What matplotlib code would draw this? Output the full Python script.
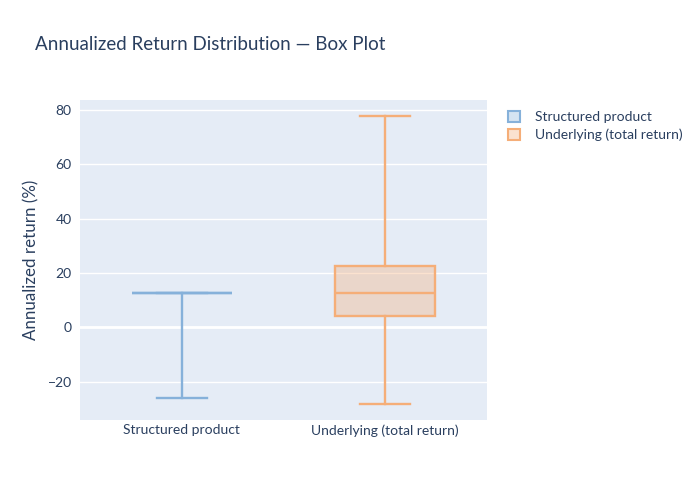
import matplotlib
matplotlib.use("Agg")
import matplotlib.pyplot as plt
from matplotlib.patches import Patch

plt.rcParams['font.family'] = ['Lato', 'DejaVu Sans']

categories = ["Structured product", "Underlying (total return)"]
whisker_low = [-25.9, -28.1]
q1 = [12.7, 4.3]
median = [12.7, 12.5]
q3 = [12.7, 22.7]
whisker_high = [12.7, 77.8]
colors = ["#86b1da", "#f5ae78"]
fills = [(0.53, 0.70, 0.86, 0.35), (0.96, 0.68, 0.47, 0.35)]
yticks = [-20, 0, 20, 40, 60, 80]

fig = plt.figure(figsize=(7, 5), dpi=100)
ax = fig.add_axes([80/700, 80/500, 407/700, 320/500])
ax.set_facecolor("#e5ecf6")

for i in range(len(categories)):
    st = [dict(med=median[i], q1=q1[i], q3=q3[i], whislo=whisker_low[i],
               whishi=whisker_high[i], fliers=[], label=categories[i])]
    ax.bxp(st, positions=[i], widths=0.49, patch_artist=True, showfliers=False,
           boxprops=dict(facecolor=fills[i], edgecolor=colors[i], linewidth=1.7),
           medianprops=dict(color=colors[i], linewidth=1.7),
           whiskerprops=dict(color=colors[i], linewidth=1.7),
           capprops=dict(color=colors[i], linewidth=1.7),
           capwidths=0.245, zorder=3)

ax.set_xlim(-0.5, 1.5)
ax.set_ylim(-34.0, 83.6)
ax.set_xticks(range(len(categories)))
ax.set_xticklabels(categories)
ax.set_yticks(yticks)
ax.set_yticklabels([str(t).replace("-", "\u2212") for t in yticks])
ax.grid(axis='y', color='white', linewidth=1, zorder=0)
ax.axhline(0, color='white', linewidth=2, zorder=1)
ax.set_axisbelow(True)
for s in ax.spines.values():
    s.set_visible(False)
ax.tick_params(axis='x', length=0, labelsize=10, colors="#2a3f5f", pad=3)
ax.tick_params(axis='y', length=0, labelsize=10, colors="#2a3f5f", pad=6)
ax.set_ylabel("Annualized return (%)", fontsize=12.2, color="#2a3f5f", labelpad=6)

fig.text(35/700, 1 - 44/500, "Annualized Return Distribution \u2014 Box Plot",
         fontsize=13.5, color="#2a3f5f", va="center", ha="left")

handles = [Patch(facecolor=fills[i], edgecolor=colors[i], linewidth=1.5,
                 label=categories[i]) for i in range(len(categories))]
leg = fig.legend(handles=handles, loc="upper left", bbox_to_anchor=(502/700, 1 - 105/500),
                 frameon=False, fontsize=10, handlelength=0.9, handleheight=0.9,
                 labelcolor="#2a3f5f", handletextpad=1.1, labelspacing=0.4, borderaxespad=0)

fig.savefig("out.png", dpi=100)
